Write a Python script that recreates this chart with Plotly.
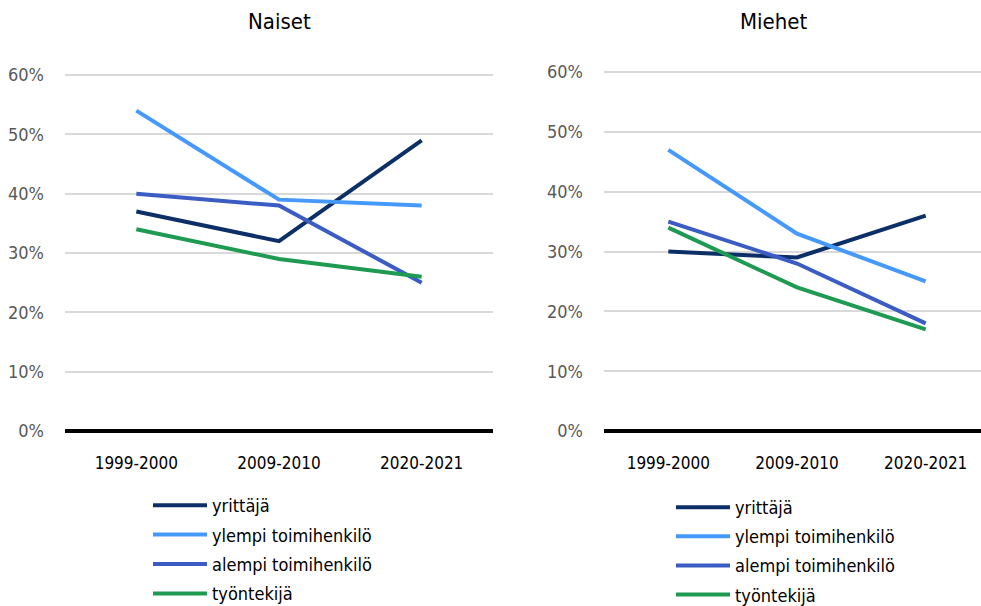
import plotly.graph_objects as go

categories = ["1999-2000", "2009-2010", "2020-2021"]
series_names = ["yrittäjä", "ylempi toimihenkilö", "alempi toimihenkilö", "työntekijä"]
naiset_yrittaja = [0.37, 0.32, 0.49]
naiset_ylempi = [0.54, 0.39, 0.38]
naiset_alempi = [0.40, 0.38, 0.25]
naiset_tyontekija = [0.34, 0.29, 0.26]
miehet_yrittaja = [0.30, 0.29, 0.36]
miehet_ylempi = [0.47, 0.33, 0.25]
miehet_alempi = [0.35, 0.28, 0.18]
miehet_tyontekija = [0.34, 0.24, 0.17]
y_ticks = [0, 0.1, 0.2, 0.3, 0.4, 0.5, 0.6]
panel_titles = ["Naiset", "Miehet"]

colors = ["#0b2f66", "#4499fb", "#3a5cc3", "#1f9a52"]
FONT = "Liberation Sans Narrow, Arial Narrow, DejaVu Sans Condensed, sans-serif"

fig = go.Figure()
naiset = [naiset_yrittaja, naiset_ylempi, naiset_alempi, naiset_tyontekija]
miehet = [miehet_yrittaja, miehet_ylempi, miehet_alempi, miehet_tyontekija]
for i, (name, vals, col) in enumerate(zip(series_names, naiset, colors)):
    fig.add_trace(go.Scatter(x=categories, y=vals, name=name, mode="lines",
                             line=dict(color=col, width=4), xaxis="x", yaxis="y",
                             legend="legend", legendgroup="n%d" % i))
for i, (name, vals, col) in enumerate(zip(series_names, miehet, colors)):
    fig.add_trace(go.Scatter(x=categories, y=vals, name=name, mode="lines",
                             line=dict(color=col, width=4), xaxis="x2", yaxis="y2",
                             legend="legend2", legendgroup="m%d" % i))

W, H = 981, 606

def yax(dom, anchor):
    return dict(domain=dom, anchor=anchor, range=[-0.02, 0.64], tickvals=y_ticks,
                tickformat=".0%", showgrid=True, gridcolor="#d9d9d9", gridwidth=1.5,
                zeroline=True, zerolinecolor="#000000", zerolinewidth=4,
                showline=False, ticks="", ticklabelstandoff=20,
                tickfont=dict(family=FONT, size=18, color="#595959"))

def xax(dom, anchor, rng):
    return dict(domain=dom, anchor=anchor, range=rng, type="category",
                showgrid=False, zeroline=False, showline=False, ticks="",
                ticklabelstandoff=8,
                tickfont=dict(family=FONT, size=17, color="#000000"))

fig.update_layout(
    width=W, height=H, margin=dict(l=0, r=0, t=0, b=0, autoexpand=False),
    plot_bgcolor="white", paper_bgcolor="white",
    font=dict(family=FONT, size=17, color="#000000"),
    xaxis=xax([65 / W, 493 / W], "y", [-0.5, 2.5]),
    yaxis=yax([(H - 442.9) / H, (H - 51.3) / H], "x"),
    xaxis2=xax([604 / W, 1.0], "y2", [-0.5, 2.43]),
    yaxis2=yax([(H - 443) / H, (H - 48.1) / H], "x2"),
    legend=dict(x=148 / W, y=(H - 487) / H, xanchor="left", yanchor="top",
                font=dict(family=FONT, size=18, color="#000000"),
                bgcolor="rgba(0,0,0,0)", itemwidth=54, tracegroupgap=3),
    legend2=dict(x=671 / W, y=(H - 489) / H, xanchor="left", yanchor="top",
                 font=dict(family=FONT, size=18, color="#000000"),
                 bgcolor="rgba(0,0,0,0)", itemwidth=54, tracegroupgap=2.7),
    showlegend=True,
    annotations=[
        dict(text=panel_titles[0], x=279 / W, y=(H - 22) / H, xref="paper", yref="paper",
             xanchor="center", yanchor="middle",
             showarrow=False, font=dict(family=FONT, size=22, color="#000000")),
        dict(text=panel_titles[1], x=773 / W, y=(H - 22) / H, xref="paper", yref="paper",
             xanchor="center", yanchor="middle",
             showarrow=False, font=dict(family=FONT, size=22, color="#000000")),
    ],
)

fig.write_html("out.html", config={"displayModeBar": False},
               post_script="document.body.style.margin='0px';document.body.style.overflow='hidden';")
